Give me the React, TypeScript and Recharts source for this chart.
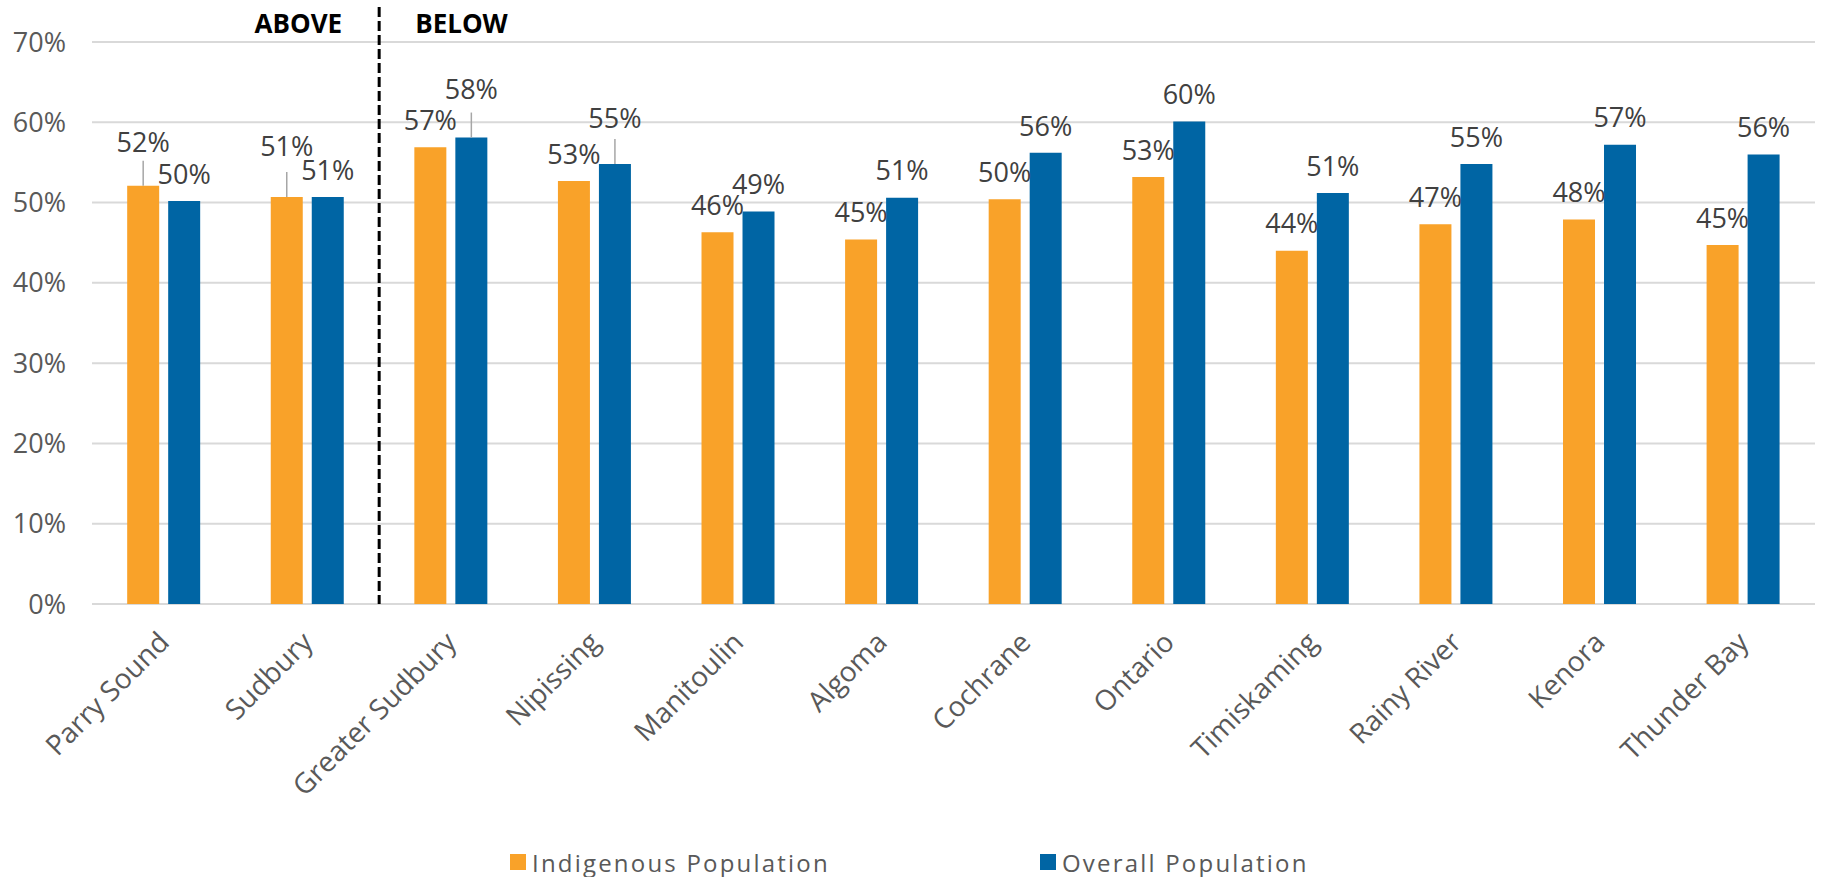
import React from 'react';
import {
  BarChart,
  Bar,
  XAxis,
  YAxis,
  CartesianGrid,
  Legend,
  LabelList,
  ReferenceLine,
} from 'recharts';

// Share of population, by district
const districts = [
  'Parry Sound',
  'Sudbury',
  'Greater Sudbury',
  'Nipissing',
  'Manitoulin',
  'Algoma',
  'Cochrane',
  'Ontario',
  'Timiskaming',
  'Rainy River',
  'Kenora',
  'Thunder Bay',
];
const indigenousShare = [0.521, 0.507, 0.569, 0.527, 0.463, 0.454, 0.504, 0.532, 0.44, 0.473, 0.479, 0.447];
const overallShare = [0.502, 0.507, 0.581, 0.548, 0.489, 0.506, 0.562, 0.601, 0.512, 0.548, 0.572, 0.56];
const yTicks = [0, 0.1, 0.2, 0.3, 0.4, 0.5, 0.6, 0.7];
const seriesNames = ['Indigenous Population', 'Overall Population'];
const groupLabels = ['ABOVE', 'BELOW'];
const firstBelow = 'Greater Sudbury';

// labels that were dragged up (with a leader line) in the original, extra lift in px
const indigenousLabelLift: Record<string, number> = { 'Parry Sound': 16, Sudbury: 24 };
const overallLabelLift: Record<string, number> = { 'Greater Sudbury': 21, Nipissing: 19 };

const ORANGE = '#F9A229';
const BLUE = '#0065A4';
const FONT = '"Open Sans", "DejaVu Sans", sans-serif';

const chartData = districts.map((name, i) => ({
  name,
  indigenous: indigenousShare[i],
  overall: overallShare[i],
}));

const pct = (v: number) => `${Math.round(v * 100)}%`;

const makeBarLabel = (key: 'indigenous' | 'overall') => (props: any) => {
  const { x, y, width, value } = props;
  const row = value;
  if (!row) return null;
  const cx = Number(x) + Number(width) / 2;
  const top = Number(y);
  const lifts = key === 'indigenous' ? indigenousLabelLift : overallLabelLift;
  const lift = lifts[row.name] || 0;
  return (
    <g>
      {lift > 0 && (
        <line x1={cx} x2={cx} y1={top - 25} y2={top} stroke="#a6a6a6" strokeWidth={1.5} />
      )}
      <text
        x={cx}
        y={top - 27 - lift}
        dy="0.36em"
        textAnchor="middle"
        fill="#404040"
        fontSize={27}
        fontFamily={FONT}
      >
        {pct(row[key])}
      </text>
    </g>
  );
};

const XTick = (props: any) => {
  const { x, y, payload } = props;
  const tx = x + 7;
  const ty = y + 40;
  return (
    <text
      x={tx}
      y={ty}
      transform={`rotate(-45 ${tx} ${ty})`}
      textAnchor="end"
      fill="#595959"
      fontSize={28}
      fontFamily={FONT}
    >
      {payload.value}
    </text>
  );
};

const SplitMarker = (props: any) => {
  const vb = props.viewBox || {};
  const lx = vb.x;
  const top = vb.y;
  const bottom = vb.y + vb.height;
  return (
    <g>
      <line
        x1={lx}
        x2={lx}
        y1={top - 35}
        y2={bottom}
        stroke="#000"
        strokeWidth={3}
        strokeDasharray="10 4"
      />
      <text x={lx - 37} y={top - 9} textAnchor="end" fontSize={26} fontWeight={700} fontFamily={FONT} fill="#000">
        {groupLabels[0]}
      </text>
      <text x={lx + 36} y={top - 9} textAnchor="start" fontSize={26} fontWeight={700} fontFamily={FONT} fill="#000">
        {groupLabels[1]}
      </text>
    </g>
  );
};

const LegendBox = () => {
  const items = [
    { name: seriesNames[0], color: ORANGE, left: 510 },
    { name: seriesNames[1], color: BLUE, left: 1040 },
  ];
  return (
    <div style={{ position: 'relative', height: 30 }}>
      {items.map((it) => (
        <div
          key={it.name}
          style={{
            position: 'absolute',
            left: it.left,
            top: 0,
            height: 30,
            display: 'flex',
            alignItems: 'center',
            fontFamily: FONT,
            fontSize: 24,
            letterSpacing: 2.2,
            color: '#595959',
            whiteSpace: 'nowrap',
          }}
        >
          <span style={{ width: 16, height: 16, background: it.color, marginRight: 6, display: 'inline-block' }} />
          {it.name}
        </div>
      ))}
    </div>
  );
};

export default function App() {
  return (
    <div style={{ position: 'absolute', left: 0, top: 0, background: '#fff' }}>
      <BarChart
        width={1822}
        height={877}
        data={chartData}
        margin={{ top: 42, right: 7, left: 0, bottom: 0 }}
        barCategoryGap="24.5%"
        barGap={9}
      >
        <CartesianGrid vertical={false} stroke="#d9d9d9" strokeWidth={2} />
        <XAxis
          dataKey="name"
          interval={0}
          height={243}
          tickLine={false}
          axisLine={false}
          tickSize={0}
          tickMargin={0}
          tick={<XTick />}
        />
        <YAxis
          width={92}
          domain={[0, 0.7]}
          ticks={yTicks}
          tickFormatter={pct}
          tickLine={false}
          axisLine={false}
          tickSize={0}
          tickMargin={26}
          tick={{ fill: '#595959', fontSize: 27, fontFamily: FONT }}
        />
        <Legend verticalAlign="bottom" content={<LegendBox />} />
        <Bar dataKey="indigenous" name={seriesNames[0]} fill={ORANGE} isAnimationActive={false}>
          <LabelList dataKey={(d: any) => d} content={makeBarLabel('indigenous')} />
        </Bar>
        <Bar dataKey="overall" name={seriesNames[1]} fill={BLUE} isAnimationActive={false}>
          <LabelList dataKey={(d: any) => d} content={makeBarLabel('overall')} />
        </Bar>
        <ReferenceLine
          x={firstBelow}
          position="start"
          stroke="transparent"
          label={<SplitMarker />}
          ifOverflow="visible"
        />
      </BarChart>
    </div>
  );
}
